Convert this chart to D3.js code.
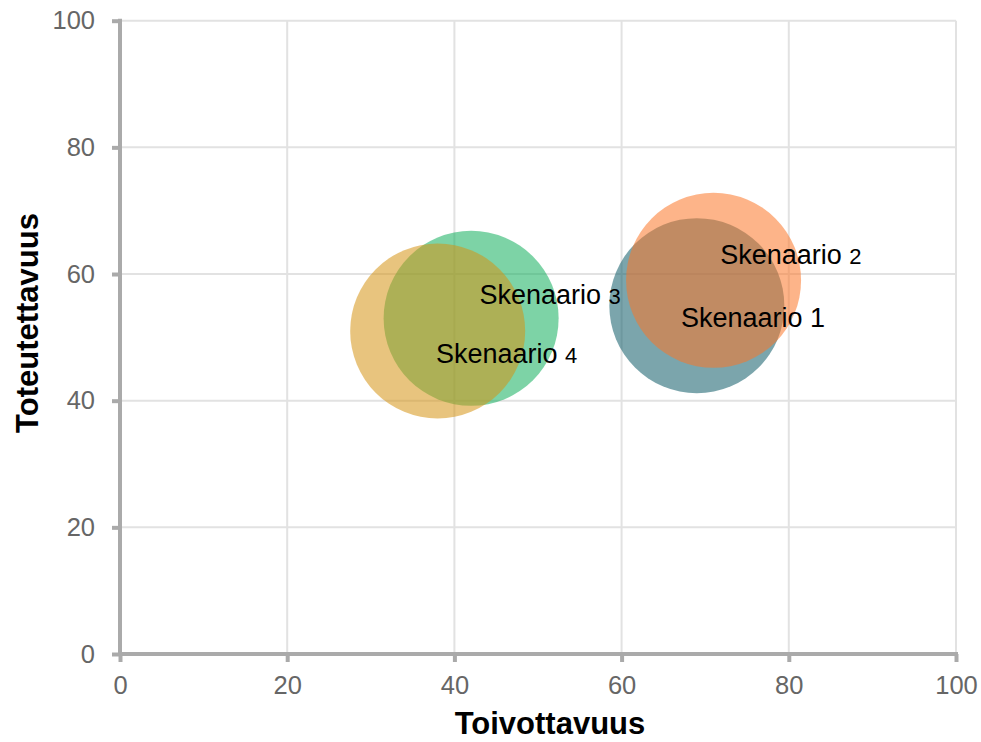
<!DOCTYPE html>
<html>
<head>
<meta charset="utf-8">
<script src="https://cdn.jsdelivr.net/npm/d3@7"></script>
<style>
  html, body { margin: 0; padding: 0; background: #fff; overflow: hidden; }
  svg { display: block; font-family: "Liberation Sans", Arial, sans-serif; }
</style>
</head>
<body>
<svg id="chart" width="981" height="742"></svg>
<script>
// ---- data ----
const scenarioNames = ["Skenaario", "Skenaario", "Skenaario", "Skenaario"];
const scenarioNumbers = ["1", "2", "3", "4"];
const toivottavuus = [69, 71, 42, 38];      // x values
const toteutettavuus = [55, 59, 53, 51];    // y values
const bubbleSize = [10, 10, 10, 10];
const labelX = [67.1, 71.8, 43.0, 37.8];
const labelY = [51.7, 61.6, 55.3, 45.9];
const xTicks = [0, 20, 40, 60, 80, 100];
const yTicks = [0, 20, 40, 60, 80, 100];
const colors = ["#0f5b68", "#fb7728", "#13af5d", "#d59414"];

// ---- layout ----
const svg = d3.select("#chart");
const x = d3.scaleLinear().domain([0, 100]).range([120, 956]);
const y = d3.scaleLinear().domain([0, 100]).range([654, 20.7]);
const r = d3.scaleSqrt().domain([0, 10]).range([0, 87.5]);

// gridlines
const grid = svg.append("g");
grid.selectAll("line.v").data(xTicks.filter(d => d > 0)).join("line")
  .attr("x1", d => x(d)).attr("x2", d => x(d))
  .attr("y1", y(0)).attr("y2", y(100))
  .attr("stroke", "#e2e2e2").attr("stroke-width", 2);
grid.selectAll("line.h").data(yTicks.filter(d => d > 0)).join("line")
  .attr("x1", x(0)).attr("x2", x(100))
  .attr("y1", d => y(d)).attr("y2", d => y(d))
  .attr("stroke", "#e2e2e2").attr("stroke-width", 2);

// axes
const xAxis = d3.axisBottom(x).tickValues(xTicks).tickSize(8).tickPadding(14).tickSizeOuter(0);
const yAxis = d3.axisLeft(y).tickValues(yTicks).tickSize(8).tickPadding(17).tickSizeOuter(0);

const gx = svg.append("g").attr("transform", `translate(0,${y(0)})`).call(xAxis);
const gy = svg.append("g").attr("transform", `translate(${x(0)},0)`).call(yAxis);
[gx, gy].forEach(g => {
  g.select(".domain").attr("stroke", "#aaaaaa").attr("stroke-width", 4);
  g.selectAll(".tick line").attr("stroke", "#aaaaaa").attr("stroke-width", 4);
  g.selectAll(".tick text").attr("fill", "#666666")
    .attr("font-size", 25.5).attr("font-family", "Liberation Sans, Arial, sans-serif");
});
gx.select(".domain").attr("d", `M${x(0) - 2},0H${x(100) + 2}`);
gy.select(".domain").attr("d", `M0,${y(0) + 2}V${y(100) - 2}`);

// bubbles
const idx = d3.range(toivottavuus.length);
svg.append("g").selectAll("circle").data(idx).join("circle")
  .attr("cx", i => x(toivottavuus[i]))
  .attr("cy", i => y(toteutettavuus[i]))
  .attr("r", i => r(bubbleSize[i]))
  .attr("fill", i => colors[i])
  .attr("fill-opacity", 0.55);

// labels
const labels = svg.append("g").selectAll("text").data(idx).join("text")
  .attr("x", i => x(labelX[i]))
  .attr("y", i => y(labelY[i]))
  .attr("fill", "#000")
  .attr("font-size", 27);
labels.append("tspan").text(i => scenarioNames[i] + " ");
labels.append("tspan")
  .attr("font-size", i => i === 0 ? 27 : 22)
  .text(i => scenarioNumbers[i]);

// axis titles
svg.append("text")
  .attr("x", 550).attr("y", 734)
  .attr("text-anchor", "middle")
  .attr("font-size", 31).attr("font-weight", "bold").attr("fill", "#000")
  .text("Toivottavuus");
svg.append("text")
  .attr("transform", "translate(38,323) rotate(-90)")
  .attr("text-anchor", "middle")
  .attr("font-size", 31).attr("font-weight", "bold").attr("fill", "#000")
  .text("Toteutettavuus");
</script>
</body>
</html>
